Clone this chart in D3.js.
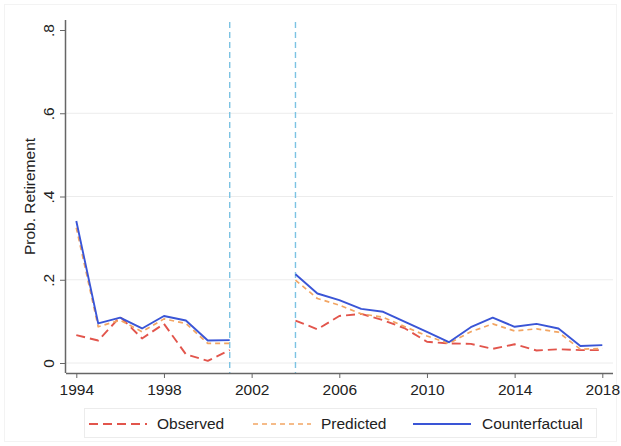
<!DOCTYPE html>
<html>
<head>
<meta charset="utf-8">
<script src="https://cdn.jsdelivr.net/npm/d3@7"></script>
<style>
body { margin: 0; background: #fff; }
text { font-family: "Liberation Sans", Arial, sans-serif; fill: #222; }
</style>
</head>
<body>
<div id="chart-area"></div>
<script>
// data
var years1 = [1994, 1995, 1996, 1997, 1998, 1999, 2000, 2001]
var years2 = [2004, 2005, 2006, 2007, 2008, 2009, 2010, 2011, 2012, 2013, 2014, 2015, 2016, 2017, 2018]

var observed1 = [0.067, 0.054, 0.111, 0.059, 0.094, 0.021, 0.005, 0.031]
var predicted1 = [0.325, 0.087, 0.103, 0.075, 0.106, 0.095, 0.047, 0.047]
var counter1 = [0.341, 0.095, 0.109, 0.083, 0.113, 0.102, 0.054, 0.055]

var observed2 = [0.102, 0.081, 0.113, 0.118, 0.103, 0.083, 0.051, 0.047, 0.046, 0.034, 0.045, 0.030, 0.033, 0.031, 0.031]
var predicted2 = [0.199, 0.155, 0.139, 0.118, 0.110, 0.087, 0.065, 0.047, 0.075, 0.094, 0.077, 0.082, 0.074, 0.033, 0.035]
var counter2 = [0.213, 0.167, 0.151, 0.130, 0.123, 0.099, 0.075, 0.050, 0.086, 0.109, 0.087, 0.094, 0.083, 0.041, 0.043]

var xTicks = [1994, 1998, 2002, 2006, 2010, 2014, 2018]
var yTicks = [0, 0.2, 0.4, 0.6, 0.8]
var yTickLabels = ["0", ".2", ".4", ".6", ".8"]
var breaks = [2001, 2004]

var legendNames = ["Observed", "Predicted", "Counterfactual"]

var cw = 621
var ch = 446

var svg = d3.select("#chart-area").append("svg")
    .attr("width", cw)
    .attr("height", ch)

// faint outer frame
svg.append("rect")
    .attr("x", 4.5).attr("y", 4.5)
    .attr("width", cw - 9).attr("height", ch - 9)
    .attr("fill", "none")
    .attr("stroke", "#f3f3f3")

var plotL = 66, plotR = 613, plotT = 20, plotB = 373

var x = d3.scaleLinear()
    .domain([1994, 2018])
    .range([76.3, 602.3])

var y = d3.scaleLinear()
    .domain([0, 0.8])
    .range([363, 30])

// gridlines
svg.append("g").selectAll("line")
    .data(yTicks.filter(d => d < 0.8))
    .enter().append("line")
    .attr("x1", plotL).attr("x2", plotR)
    .attr("y1", d => y(d)).attr("y2", d => y(d))
    .attr("stroke", "#ececec")
    .attr("stroke-width", 1)

// vertical break lines
svg.append("g").selectAll("line")
    .data(breaks)
    .enter().append("line")
    .attr("x1", d => x(d)).attr("x2", d => x(d))
    .attr("y1", 22).attr("y2", plotB)
    .attr("stroke", "#7cc3e3")
    .attr("stroke-width", 1.4)
    .attr("stroke-dasharray", "6,4")

// axes
var bottomAxis = d3.axisBottom(x)
    .tickValues(xTicks)
    .tickFormat(d3.format("d"))
    .tickSizeOuter(0)
    .tickSize(5)
    .tickPadding(5)

var xAxisGroup = svg.append("g")
    .attr("transform", "translate(0," + plotB + ")")
    .call(bottomAxis)
xAxisGroup.select(".domain").attr("d", "M" + plotL + ",0.5H" + plotR)

var leftAxis = d3.axisLeft(y)
    .tickValues(yTicks)
    .tickFormat((d, i) => yTickLabels[i])
    .tickSizeOuter(0)
    .tickSize(6)

var yAxisGroup = svg.append("g")
    .attr("transform", "translate(" + plotL + ",0)")
    .call(leftAxis)
yAxisGroup.select(".domain").attr("d", "M-0.5," + plotT + "V" + plotB)

svg.selectAll(".domain").attr("stroke", "#666").attr("stroke-width", 1.5)
svg.selectAll(".tick line").attr("stroke", "#666")
svg.selectAll(".tick text")
    .attr("font-family", "Liberation Sans, Arial, sans-serif")
    .attr("font-size", "15.5px")
    .attr("fill", "#222")

yAxisGroup.selectAll(".tick text")
    .attr("x", null).attr("dy", null)
    .attr("text-anchor", "middle")
    .attr("transform", "translate(-12,0) rotate(-90)")

xAxisGroup.selectAll(".tick text").attr("dy", "0.75em")

svg.append("text")
    .attr("transform", "translate(35," + (plotT + plotB) / 2 + ") rotate(-90)")
    .attr("text-anchor", "middle")
    .attr("font-size", "15.5px")
    .text("Prob. Retirement")

// lines
var line = d3.line()
    .x(d => x(d[0]))
    .y(d => y(d[1]))

var series = [
    {name: "Observed", color: "#e2554c", dash: "9,5", w: 1.9, parts: [[years1, observed1], [years2, observed2]]},
    {name: "Predicted", color: "#f2a563", dash: "5,4", w: 1.7, parts: [[years1, predicted1], [years2, predicted2]]},
    {name: "Counterfactual", color: "#3a55d6", dash: null, w: 1.9, parts: [[years1, counter1], [years2, counter2]]}
]

series.forEach(s => {
    s.parts.forEach(p => {
        svg.append("path")
            .datum(p[0].map((yr, i) => [yr, p[1][i]]))
            .attr("d", line)
            .attr("fill", "none")
            .attr("stroke", s.color)
            .attr("stroke-width", s.w)
            .attr("stroke-dasharray", s.dash)
            .attr("stroke-linejoin", "round")
    })
})

// legend
var legend = svg.append("g")
legend.append("rect")
    .attr("x", 84.5).attr("y", 408.5)
    .attr("width", 512).attr("height", 29)
    .attr("fill", "#fff")
    .attr("stroke", "#ececec")

var legendX = [89, 253, 413]
var legendItems = legend.selectAll(".legend-item")
    .data(series)
    .enter().append("g")
    .attr("class", "legend-item")
    .attr("transform", (d, i) => "translate(" + legendX[i] + ",424)")

legendItems.append("line")
    .attr("x1", 0).attr("x2", 58)
    .attr("stroke", d => d.color)
    .attr("stroke-width", d => d.w)
    .attr("stroke-dasharray", d => d.dash)

legendItems.append("text")
    .attr("x", (d, i) => [68, 68, 69][i])
    .attr("dy", "0.35em")
    .attr("font-size", "15.5px")
    .text((d, i) => legendNames[i])
</script>
</body>
</html>
